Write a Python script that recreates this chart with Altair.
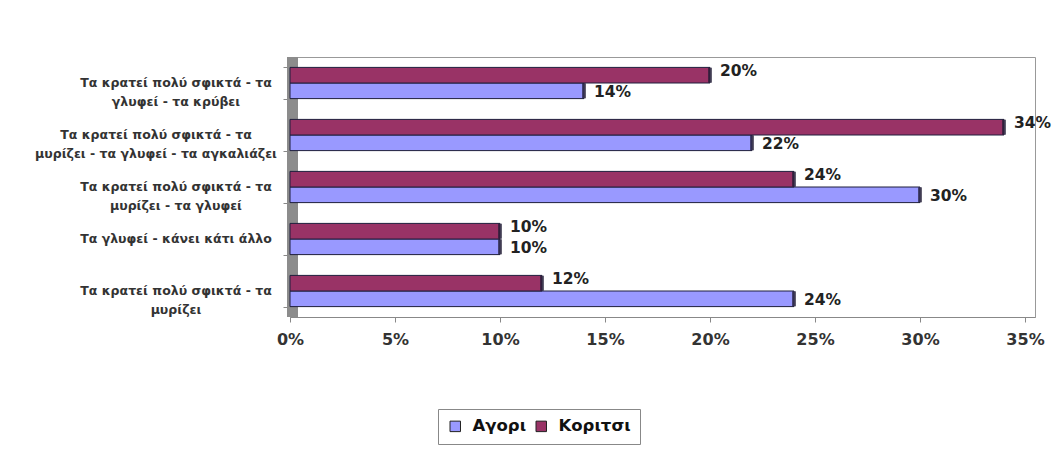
import altair as alt
import pandas as pd

# Responses, top to bottom
categories = [
    "Τα κρατεί πολύ σφικτά - τα\nγλυφεί - τα κρύβει",
    "Τα κρατεί πολύ σφικτά - τα\nμυρίζει - τα γλυφεί - τα αγκαλιάζει",
    "Τα κρατεί πολύ σφικτά - τα\nμυρίζει - τα γλυφεί",
    "Τα γλυφεί - κάνει κάτι άλλο",
    "Τα κρατεί πολύ σφικτά - τα\nμυρίζει",
]
boys = [0.14, 0.22, 0.30, 0.10, 0.24]
girls = [0.20, 0.34, 0.24, 0.10, 0.12]
series = ["Αγορι", "Κοριτσι"]
colors = ["#9999FF", "#993366"]
x_ticks = [0, 0.05, 0.10, 0.15, 0.20, 0.25, 0.30, 0.35]

rows = []
for cat, b, g in zip(categories, boys, girls):
    rows.append({"cat": cat, "series": series[0], "value": b})
    rows.append({"cat": cat, "series": series[1], "value": g})
df = pd.DataFrame(rows)

FONT = "DejaVu Sans"
W, H = 745, 260

y_enc = alt.Y(
    "cat:N",
    sort=categories,
    scale=alt.Scale(paddingInner=0.4, paddingOuter=0.2),
    axis=alt.Axis(
        title=None,
        labels=False,
        tickBand="extent",
        tickSize=4,
        tickColor="#888888",
        offset=3,
        domain=False,
    ),
)
yoff_enc = alt.YOffset("series:N", scale=alt.Scale(domain=["Κοριτσι", "Αγορι"]))
x_enc = alt.X(
    "value:Q",
    scale=alt.Scale(domain=[0, 0.35476], nice=False, zero=True),
    axis=alt.Axis(
        title=None,
        values=x_ticks,
        format=".0%",
        grid=False,
        domainColor="#888888",
        tickColor="#888888",
        tickSize=5,
        labelFont=FONT,
        labelFontSize=16,
        labelFontWeight="bold",
        labelColor="#333333",
        labelPadding=9,
        labelOverlap=False,
        labelFlush=False,
        orient="bottom",
    ),
)

base = alt.Chart(df)

# grey side wall of the plot
wall = base.mark_rect(color="#8c8c8c").encode(
    x=alt.value(-3), x2=alt.value(8), y=alt.value(0), y2=alt.value(H)
)

bars = base.mark_bar(stroke="#1e1e3c", strokeWidth=1).encode(
    x=x_enc,
    y=y_enc,
    yOffset=yoff_enc,
    color=alt.Color(
        "series:N",
        scale=alt.Scale(domain=series, range=colors),
        legend=alt.Legend(
            orient="none",
            legendX=148,
            legendY=352,
            direction="horizontal",
            title=None,
            symbolType="square",
            symbolSize=110,
            symbolStrokeColor="#222222",
            symbolStrokeWidth=1,
            symbolOpacity=1,
            labelFont=FONT,
            labelFontSize=16.5,
            labelFontWeight="bold",
            labelColor="#111111",
            labelOffset=9,
            strokeColor="#888888",
            fillColor="white",
            padding=9,
            columnPadding=6,
        ),
    ),
)

caps = base.mark_tick(thickness=4, size=15, color="#1f1a33").encode(
    x="value:Q", y=alt.Y("cat:N", sort=categories), yOffset=yoff_enc
)

# value labels: girls' a little above their bar, boys' a little below
label_style = dict(
    align="left", baseline="middle", dx=10,
    font=FONT, fontSize=15.5, fontWeight="bold", color="#222222",
)
label_enc = dict(
    x="value:Q",
    y=alt.Y("cat:N", sort=categories),
    yOffset=yoff_enc,
    text=alt.Text("value:Q", format=".0%"),
)
labels_girls = (
    base.transform_filter(alt.datum.series == series[1])
    .mark_text(dy=-4, **label_style)
    .encode(**label_enc)
)
labels_boys = (
    base.transform_filter(alt.datum.series == series[0])
    .mark_text(dy=1, **label_style)
    .encode(**label_enc)
)

# category names, lines centred within each right-aligned block
cat_df = pd.DataFrame({"cat": categories})
long_test = "indexof(datum.cat, 'αγκαλιάζει') >= 0"
cat_style = dict(
    align="center", baseline="middle", lineBreak="\n", lineHeight=19,
    font=FONT, fontSize=12.5, fontWeight="bold", color="#333333",
)
cat_short = (
    alt.Chart(cat_df)
    .transform_filter(f"!({long_test})")
    .mark_text(**cat_style)
    .encode(x=alt.value(-114), y=alt.Y("cat:N", sort=categories), text="cat:N")
)
cat_long = (
    alt.Chart(cat_df)
    .transform_filter(long_test)
    .mark_text(**cat_style)
    .encode(x=alt.value(-134), y=alt.Y("cat:N", sort=categories), text="cat:N")
)

chart = (
    alt.layer(wall, bars, caps, labels_girls, labels_boys, cat_short, cat_long)
    .properties(
        width=W,
        height=H,
        autosize=alt.AutoSizeParams(type="none"),
        padding={"left": 290, "top": 57, "right": 27, "bottom": 133},
        background="white",
    )
    .configure_view(stroke="#999999", strokeWidth=1)
)

chart.save("out.html", embed_options={"renderer": "svg", "actions": False})
